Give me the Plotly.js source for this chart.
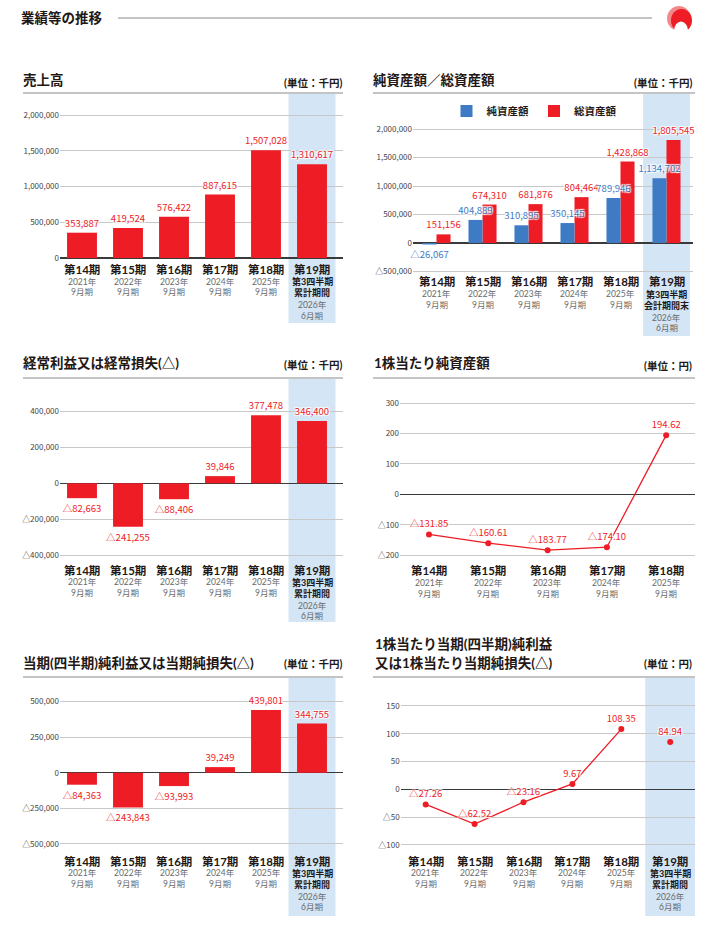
<!DOCTYPE html>
<html><head><meta charset="utf-8">
<script src="https://cdn.plot.ly/plotly-3.0.1.min.js"></script>
<style>html,body{margin:0;padding:0;background:#fff}#chart{width:715px;height:925px}</style>
</head><body><div id="chart"></div>
<script>
// ---- data ----
const periods = ['第14期','第15期','第16期','第17期','第18期','第19期'];
const years = ['2021年','2022年','2023年','2024年','2025年','2026年'];
const months = ['9月期','9月期','9月期','9月期','9月期','6月期'];
const q3Cumulative = ['第3四半期','累計期間'];
const q3End = ['第3四半期','会計期間末'];

const sales = [353887, 419524, 576422, 887615, 1507028, 1310617];
const netAssets = [-26067, 404889, 310895, 350145, 789946, 1134702];
const totalAssets = [151156, 674310, 681876, 804464, 1428868, 1805545];
const ordinaryIncome = [-82663, -241255, -88406, 39846, 377478, 346400];
const bpsPeriods = ['第14期','第15期','第16期','第17期','第18期'];
const bps = [-131.85, -160.61, -183.77, -174.10, 194.62];
const netIncome = [-84363, -243843, -93993, 39249, 439801, 344755];
const epsPeriods = ['第14期','第15期','第16期','第17期','第18期'];
const eps = [-27.26, -62.52, -23.16, 9.67, 108.35];
const epsQ3Period = ['第19期'];
const epsQ3 = [84.94];

const salesTicks = [0, 500000, 1000000, 1500000, 2000000];
const assetTicks = [-500000, 0, 500000, 1000000, 1500000, 2000000];
const ordinaryTicks = [-400000, -200000, 0, 200000, 400000];
const bpsTicks = [-200, -100, 0, 100, 200, 300];
const netIncomeTicks = [-500000, -250000, 0, 250000, 500000];
const epsTicks = [-100, -50, 0, 50, 100, 150];

// ---- styling ----
const W = 715, H = 925;
const FONT = '"Noto Sans CJK JP", "Noto Sans", sans-serif';
const FONT_T = 'Lato, "Noto Sans CJK JP", sans-serif';
const RED = '#ee1c25', BLUE = '#3e7bc4', BAND = '#d4e5f5', DARK = '#231815', GREY = '#6a6a6a';
const X = px => px / W, Y = py => 1 - py / H;
const fmt = (v, d) => (v < 0 ? '△' : '') + Math.abs(v).toLocaleString('en-US', {minimumFractionDigits: d, maximumFractionDigits: d});
const SHADOW = '1px 1px 1px #fff, -1px -1px 1px #fff, 1px -1px 1px #fff, -1px 1px 1px #fff';

function xAx(left, right, c0, step, anchor) {
  return {domain: [X(left), X(right)], range: [(left - c0) / step, (right - c0) / step],
    type: 'category', categoryorder: 'array', categoryarray: periods,
    showgrid: false, zeroline: false, showline: false, showticklabels: false, ticks: '',
    anchor: anchor, fixedrange: true};
}
function yAx(top, bot, zero, ppu, tickvals, anchor) {
  return {domain: [Y(bot), Y(top)], range: [(zero - bot) / ppu, (zero - top) / ppu],
    tickmode: 'array', tickvals: tickvals, ticktext: tickvals.map(v => fmt(v, 0)),
    showgrid: true, gridcolor: '#c8c8c8', gridwidth: 1,
    zeroline: true, zerolinecolor: '#3a3a3a', zerolinewidth: 1.4,
    showline: false, ticks: '', tickfont: {size: 8, color: '#444', family: FONT},
    anchor: anchor, fixedrange: true};
}

function barTrace(x, y, xa, ya, color, name, legend, width, offset, rank) {
  const t = {type: 'bar', x: x, y: y, xaxis: xa, yaxis: ya, name: name, showlegend: legend,
    marker: {color: color, line: {width: 0}},
    text: y.map(v => fmt(v, 0)), textposition: 'outside', constraintext: 'none', cliponaxis: false,
    textfont: {size: 9.5, color: color, family: FONT, shadow: SHADOW}, hoverinfo: 'skip'};
  if (width) t.width = width;
  if (offset !== undefined) t.offset = offset;
  if (rank) t.legendrank = rank;
  return t;
}
function lineTrace(x, y, xa, ya, mode) {
  return {type: 'scatter', mode: mode, x: x, y: y, xaxis: xa, yaxis: ya, showlegend: false,
    line: {color: RED, width: 1.3}, marker: {color: RED, size: 6},
    text: y.map(v => fmt(v, 2)), textposition: 'top center', cliponaxis: false,
    textfont: {size: 9.5, color: RED, family: FONT, shadow: SHADOW}, hoverinfo: 'skip'};
}

const data = [
  barTrace(periods, sales, 'x', 'y', RED, '売上高', false, 0.65),
  // total assets drawn first so the net-asset labels sit on top of the red bars
  barTrace(periods, totalAssets, 'x2', 'y2', RED, '総資産額', true, 0.305, 0, 2),
  barTrace(periods, netAssets, 'x2', 'y2', BLUE, '純資産額', true, 0.305, -0.305, 1),
  barTrace(periods, ordinaryIncome, 'x3', 'y3', RED, '経常利益', false, 0.65),
  lineTrace(bpsPeriods, bps, 'x4', 'y4', 'lines+markers+text'),
  barTrace(periods, netIncome, 'x5', 'y5', RED, '純利益', false, 0.65),
  lineTrace(epsPeriods, eps, 'x6', 'y6', 'lines+markers+text'),
  lineTrace(epsQ3Period, epsQ3, 'x6', 'y6', 'markers+text')
];

const annotations = [];
const shapes = [];
function txt(text, xpx, ypx, size, color, anchor, bold, fam) {
  annotations.push({text: bold ? '<b>' + text + '</b>' : text, x: X(xpx), y: Y(ypx), xref: 'paper', yref: 'paper',
    xanchor: anchor, yanchor: 'middle', showarrow: false, borderpad: 0,
    font: {size: size, color: color, family: fam || FONT_T}});
}
function hline(x0, x1, y, color, w) {
  shapes.push({type: 'line', xref: 'paper', yref: 'paper', x0: X(x0), x1: X(x1), y0: Y(y), y1: Y(y), line: {color: color, width: w}});
}
function band(xref, top, bot) {
  shapes.push({type: 'rect', xref: xref, yref: 'paper', x0: 4.49, x1: 5.51, y0: Y(bot), y1: Y(top),
    fillcolor: BAND, line: {width: 0}, layer: 'below'});
}
function catText(xref, i, text, ypx, size, color) {
  annotations.push({xref: xref, yref: 'paper', x: i, y: Y(ypx), xanchor: 'center', yanchor: 'middle',
    showarrow: false, borderpad: 0, text: text, font: {size: size, color: color, family: FONT_T}});
}
function catLabels(xref, n, P, sub) {
  for (let i = 0; i < n; i++) {
    catText(xref, i, '<b>' + periods[i] + '</b>', P, 11.5, DARK);
    if (i === 5 && sub) {
      catText(xref, i, '<b>' + sub[0] + '</b>', P + 12.4, 9, DARK);
      catText(xref, i, '<b>' + sub[1] + '</b>', P + 23.3, 9, DARK);
      catText(xref, i, years[i], P + 35.7, 8.5, GREY);
      catText(xref, i, months[i], P + 46.1, 8.5, GREY);
    } else {
      catText(xref, i, years[i], P + 12.4, 8.5, GREY);
      catText(xref, i, months[i], P + 22.8, 8.5, GREY);
    }
  }
}

// header
txt('業績等の推移', 20, 18, 13.5, DARK, 'left', true);
hline(118, 652, 18, '#8a8a8a', 1);
shapes.push({type: 'circle', xref: 'paper', yref: 'paper', x0: X(667), x1: X(691), y0: Y(31), y1: Y(6), fillcolor: '#f4898c', line: {width: 0}});
shapes.push({type: 'circle', xref: 'paper', yref: 'paper', x0: X(671), x1: X(692), y0: Y(32), y1: Y(9), fillcolor: RED, line: {width: 0}});
shapes.push({type: 'circle', xref: 'paper', yref: 'paper', x0: X(674), x1: X(688), y0: Y(40), y1: Y(21.5), fillcolor: '#fff', line: {width: 0}});

// panel titles / units / top lines / bands
txt('売上高', 22, 80, 13.5, DARK, 'left', true);
txt('(単位：千円)', 343, 83, 10.5, DARK, 'right', true);
hline(23, 343, 93, '#c4c4c4', 2);
band('x', 94, 323);

txt('純資産額／総資産額', 372, 80, 13.5, DARK, 'left', true);
txt('(単位：千円)', 693, 83, 10.5, DARK, 'right', true);
hline(373, 695, 93, '#c4c4c4', 2);
band('x2', 94, 336);

txt('経常利益又は経常損失(△)', 22, 363, 13.5, DARK, 'left', true);
txt('(単位：千円)', 343, 365, 10.5, DARK, 'right', true);
hline(23, 343, 378, '#c4c4c4', 2);
band('x3', 379, 622);

txt('1株当たり純資産額', 373, 363, 13.5, DARK, 'left', true);
txt('(単位：円)', 693, 366, 10.5, DARK, 'right', true);
hline(373, 695, 378, '#c4c4c4', 2);

txt('当期(四半期)純利益又は当期純損失(△)', 22, 663, 13.5, DARK, 'left', true);
txt('(単位：千円)', 343, 664, 10.5, DARK, 'right', true);
hline(23, 343, 677, '#c4c4c4', 2);
band('x5', 678, 916);

txt('1株当たり当期(四半期)純利益', 374, 644, 13.5, DARK, 'left', true);
txt('又は1株当たり当期純損失(△)', 374, 663, 13.5, DARK, 'left', true);
txt('(単位：円)', 693, 664, 10.5, DARK, 'right', true);
hline(373, 695, 677, '#c4c4c4', 2);
band('x6', 678, 916);

// category labels
catLabels('x', 6, 269.5, q3Cumulative);
catLabels('x2', 6, 281.8, q3End);
catLabels('x3', 6, 570, q3Cumulative);
catLabels('x4', 5, 570.7, null);
catLabels('x5', 6, 861, q3Cumulative);
catLabels('x6', 6, 861, q3Cumulative);

const layout = {
  width: W, height: H, margin: {l: 0, r: 0, t: 0, b: 0, pad: 0},
  paper_bgcolor: '#fff', plot_bgcolor: 'rgba(0,0,0,0)',
  font: {family: FONT, color: DARK},
  barmode: 'group', bargap: 0.39, bargroupgap: 0,
  showlegend: true,
  legend: {orientation: 'h', x: X(534), xanchor: 'center', y: Y(111), yanchor: 'middle',
    font: {size: 10.5, color: DARK, family: FONT, weight: 'bold'}, bgcolor: 'rgba(0,0,0,0)', itemwidth: 30, tracegroupgap: 0},
  xaxis: xAx(60, 343, 82, 46, 'y'),
  yaxis: yAx(100, 262, 258, 35.75 / 500000, salesTicks, 'x'),
  xaxis2: xAx(413, 693, 436.5, 46, 'y2'),
  yaxis2: yAx(118, 275, 243, 28.5 / 500000, assetTicks, 'x2'),
  xaxis3: xAx(60, 343, 82, 46, 'y3'),
  yaxis3: yAx(390, 560, 483.3, 36 / 200000, ordinaryTicks, 'x3'),
  xaxis4: xAx(400, 695, 429, 59.3, 'y4'),
  yaxis4: yAx(395, 560, 494.3, 30.4 / 100, bpsTicks, 'x4'),
  xaxis5: xAx(60, 343, 82, 46, 'y5'),
  yaxis5: yAx(690, 848, 772.7, 35.6 / 250000, netIncomeTicks, 'x5'),
  xaxis6: xAx(400.7, 695, 425.7, 48.9, 'y6'),
  yaxis6: yAx(695, 850, 789.3, 27.8 / 50, epsTicks, 'x6'),
  annotations: annotations,
  shapes: shapes
};

Plotly.newPlot('chart', data, layout, {staticPlot: true, displayModeBar: false});
</script>
</body></html>
